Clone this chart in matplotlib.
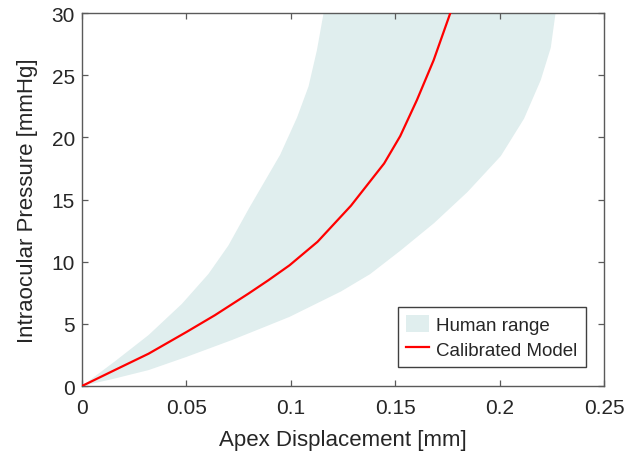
import matplotlib
matplotlib.use("Agg")
import matplotlib.pyplot as plt
from matplotlib.patches import Patch
from matplotlib.lines import Line2D

# Calibrated model curve
model_x = [0, 0.0159, 0.0319, 0.0502, 0.0637, 0.0797, 0.0892, 0.0994, 0.1128,
           0.1288, 0.1447, 0.1524, 0.1604, 0.1684, 0.1764]
model_y = [0, 1.3, 2.6, 4.36, 5.70, 7.43, 8.50, 9.71, 11.6,
           14.5, 17.9, 20.1, 23.0, 26.2, 30]

# Human range: stiff (left/upper) boundary
upper_x = [0, 0.0159, 0.0319, 0.0478, 0.0605, 0.0701, 0.0800, 0.0949, 0.1030,
           0.1085, 0.1125, 0.1157]
upper_y = [0, 2.0, 4.1, 6.6, 9.0, 11.3, 14.3, 18.6, 21.6,
           24.1, 27.0, 30]

# Human range: compliant (right/lower) boundary
lower_x = [0, 0.0159, 0.0319, 0.0502, 0.0717, 0.0876, 0.0994, 0.1240, 0.1380,
           0.1526, 0.1686, 0.1846, 0.2006, 0.2117, 0.2197, 0.2245, 0.2268]
lower_y = [0, 0.61, 1.28, 2.35, 3.69, 4.76, 5.56, 7.6, 9.0,
           10.9, 13.1, 15.6, 18.5, 21.5, 24.6, 27.2, 30]

x_ticks = [0, 0.05, 0.1, 0.15, 0.2, 0.25]
x_tick_labels = ["0", "0.05", "0.1", "0.15", "0.2", "0.25"]
y_ticks = [0, 5, 10, 15, 20, 25, 30]

band_color = "#e0eeee"
spine_color = "#5a5a5a"
text_color = "#262626"

plt.rcParams["font.family"] = ["Liberation Sans", "DejaVu Sans"]

fig = plt.figure(figsize=(6.25, 4.52), dpi=100)
ax = fig.add_axes([0.1312, 0.1438, 0.8352, 0.8252])

poly_x = upper_x + lower_x[::-1]
poly_y = upper_y + lower_y[::-1]
ax.fill(poly_x, poly_y, color=band_color, linewidth=0, zorder=1)
ax.plot(model_x, model_y, color="#ff0000", linewidth=1.6, zorder=3,
        solid_joinstyle="round")

ax.set_xlim(0, 0.25)
ax.set_ylim(0, 30)
ax.set_xticks(x_ticks)
ax.set_xticklabels(x_tick_labels)
ax.set_yticks(y_ticks)

for s in ax.spines.values():
    s.set_color(spine_color)
    s.set_linewidth(1.0)
ax.tick_params(direction="in", length=4, width=0.9, color=spine_color,
               top=True, right=True, labelsize=15, labelcolor=text_color)
ax.tick_params(axis="x", pad=8.5)
ax.tick_params(axis="y", pad=5)

ax.set_xlabel("Apex Displacement [mm]", fontsize=16, color=text_color, labelpad=9)
ax.set_ylabel("Intraocular Pressure [mmHg]", fontsize=16, color=text_color, labelpad=10)

handles = [Patch(facecolor=band_color, edgecolor="none"),
           Line2D([0], [0], color="#ff0000", linewidth=1.6)]
leg = ax.legend(handles, ["Human range", "Calibrated Model"],
                loc="lower right", bbox_to_anchor=(0.9655, 0.0509),
                borderaxespad=0, fontsize=13.5, fancybox=False, framealpha=1,
                edgecolor="#404040", handlelength=1.2, handleheight=1.0,
                handletextpad=0.4, borderpad=0.45, labelspacing=0.3)
leg.get_frame().set_linewidth(1.0)
for t in leg.get_texts():
    t.set_color(text_color)

fig.savefig("out.png", dpi=100)
